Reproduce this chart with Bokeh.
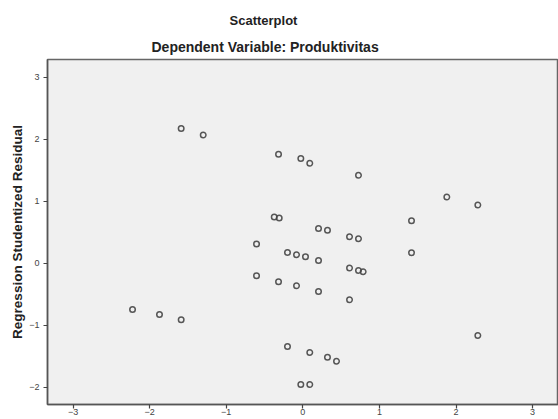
from bokeh.plotting import figure
from bokeh.models import Title, Range1d
from bokeh.embed import file_html
from bokeh.resources import INLINE

# Data (regression standardized predicted value vs studentized residual)
pred = [-1.588, -1.300, -0.317, -0.026, 0.091, 0.727, -0.373, -0.308, 0.205, 0.322,
        1.880, 2.285, 1.419, -2.223, -1.871, -1.588, 0.610, 0.727, -0.604, -0.200,
        -0.082, 0.035, 0.205, 0.610, 0.727, 0.788, -0.604, -0.317, -0.082, 0.205,
        0.610, -0.200, 0.091, 0.322, 0.440, -0.026, 0.091, 1.419, 2.285]
resid = [2.173, 2.069, 1.758, 1.689, 1.613, 1.419, 0.747, 0.731, 0.560, 0.532,
         1.070, 0.941, 0.688, -0.742, -0.823, -0.909, 0.430, 0.398, 0.312, 0.177,
         0.140, 0.108, 0.048, -0.075, -0.113, -0.134, -0.199, -0.295, -0.360, -0.452,
         -0.586, -1.339, -1.435, -1.511, -1.576, -1.952, -1.952, 0.172, -1.161]

x_ticks = [-3, -2, -1, 0, 1, 2, 3]
y_ticks = [-2, -1, 0, 1, 2, 3]

FONT = "Liberation Sans"

p = figure(width=558, height=419, output_backend="svg", toolbar_location=None,
           x_range=Range1d(-3.333, 3.338), y_range=Range1d(-2.274, 3.285),
           min_border_left=47, min_border_right=0, min_border_top=59, min_border_bottom=15)

p.background_fill_color = "#f0f0f0"
p.border_fill_color = "white"
p.outline_line_color = "#666666"
p.outline_line_width = 1.5
p.xgrid.visible = False
p.ygrid.visible = False

p.scatter(pred, resid, size=5.5, marker="circle", fill_color=None,
          line_color="#454545", line_width=1.5, line_alpha=0.9)

for ax in (p.xaxis[0], p.yaxis[0]):
    ax.major_tick_in = 0
    ax.major_tick_out = 4
    ax.minor_tick_in = 0
    ax.minor_tick_out = 0
    ax.axis_line_color = "#555555"
    ax.axis_line_width = 1.5
    ax.major_tick_line_color = "#444444"
    ax.major_tick_line_width = 1.2
    ax.major_label_text_font = FONT
    ax.major_label_text_font_size = "9px"
    ax.major_label_text_color = "#444444"

p.xaxis.ticker = x_ticks
p.yaxis.ticker = y_ticks
p.xaxis.major_label_standoff = 0
p.yaxis.major_label_standoff = 4

p.yaxis.axis_label = "Regression Studentized Residual"
p.yaxis.axis_label_text_font = FONT
p.yaxis.axis_label_text_font_size = "13.5px"
p.yaxis.axis_label_text_font_style = "bold"
p.yaxis.axis_label_text_color = "#222222"
p.yaxis.axis_label_standoff = 1

sub = Title(text="Dependent Variable: Produktivitas", align="left", offset=104,
            text_font=FONT, text_font_size="14px", text_font_style="bold",
            text_color="#222222", standoff=9)
main = Title(text="Scatterplot", align="left", offset=182,
             text_font=FONT, text_font_size="13px", text_font_style="bold",
             text_color="#222222", standoff=10)
p.add_layout(sub, "above")
p.add_layout(main, "above")

open("out.html", "w").write(file_html(p, INLINE))
